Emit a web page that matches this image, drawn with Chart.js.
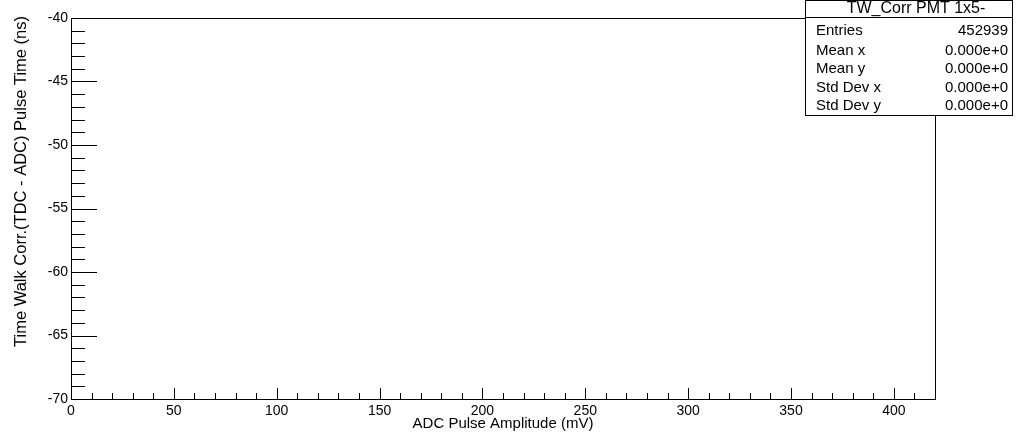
<!DOCTYPE html>
<html>
<head>
<meta charset="utf-8">
<script src="https://cdn.jsdelivr.net/npm/chart.js@4/dist/chart.umd.min.js"></script>
<style>
  html, body { margin: 0; padding: 0; background: #fff; }
  #wrap { width: 1021px; height: 433px; }
</style>
</head>
<body>
<div id="wrap"><canvas id="twChart" width="1021" height="433"></canvas></div>
<script>
// --- datos del histograma (vacío: todas las entradas fuera del rango) ---
const histPoints = [];
const xRange = [0, 420];
const yRange = [-70, -40];
const xTickValues = [0, 50, 100, 150, 200, 250, 300, 350, 400];
const yTickValues = [-70, -65, -60, -55, -50, -45, -40];
const xMinorStep = 10;
const yMinorStep = 1;

const xTitle = 'ADC Pulse Amplitude (mV)';
const yTitle = 'Time Walk Corr.(TDC - ADC) Pulse Time (ns)';

const statsTitle = 'TW_Corr PMT 1x5-';
const statLabels = ['Entries', 'Mean x', 'Mean y', 'Std Dev x', 'Std Dev y'];
const statValues = ['452939', '0.000e+0', '0.000e+0', '0.000e+0', '0.000e+0'];

const FONT = '"Liberation Sans", Arial, sans-serif';

// marco, marcas interiores, títulos y caja de estadísticas
const rootFrame = {
    id: 'rootFrame',
    afterDraw(chart) {
        const ctx = chart.ctx;
        const a = chart.chartArea;
        const xs = chart.scales.x, ys = chart.scales.y;
        ctx.save();
        ctx.strokeStyle = '#000';
        ctx.lineWidth = 1;

        // marco
        ctx.strokeRect(Math.round(a.left) + 0.5, Math.round(a.top) + 0.5,
            Math.round(a.right - a.left), Math.round(a.bottom - a.top));

        ctx.beginPath();
        // marcas eje x
        for (let v = xRange[0]; v <= xRange[1]; v += xMinorStep) {
            const px = Math.round(xs.getPixelForValue(v)) + 0.5;
            const len = (v % 50 === 0) ? 11 : 6;
            ctx.moveTo(px, a.bottom);
            ctx.lineTo(px, a.bottom - len);
        }
        // marcas eje y
        for (let v = yRange[0]; v <= yRange[1]; v += yMinorStep) {
            const py = Math.round(ys.getPixelForValue(v)) + 0.5;
            const len = (v % 5 === 0) ? 26 : 14;
            ctx.moveTo(a.left, py);
            ctx.lineTo(a.left + len, py);
        }
        ctx.stroke();

        // títulos de ejes
        ctx.fillStyle = '#000';
        ctx.textBaseline = 'alphabetic';
        ctx.textAlign = 'center';
        ctx.font = '15px ' + FONT;
        ctx.fillText(xTitle, 503, 428);
        ctx.save();
        ctx.translate(26, 181.5);
        ctx.rotate(-Math.PI / 2);
        ctx.font = '16.5px ' + FONT;
        ctx.fillText(yTitle, 0, 0);
        ctx.restore();

        // caja de estadísticas
        const bx = 805, by = 0, bw = 207, bh = 115;
        ctx.fillStyle = '#fff';
        ctx.fillRect(bx, by, bw, bh);
        ctx.strokeRect(bx + 0.5, by + 0.5, bw, bh);
        ctx.beginPath();
        ctx.moveTo(bx, 17.5);
        ctx.lineTo(bx + bw, 17.5);
        ctx.stroke();
        ctx.fillStyle = '#000';
        ctx.textAlign = 'center';
        ctx.font = '16px ' + FONT;
        ctx.fillText(statsTitle, 916, 13);
        ctx.font = '15px ' + FONT;
        const rowY = [35, 54.5, 73, 92, 110];
        statLabels.forEach((lbl, i) => {
            ctx.textAlign = 'left';
            ctx.fillText(lbl, 816, rowY[i]);
            ctx.textAlign = 'right';
            ctx.fillText(statValues[i], 1008, rowY[i]);
        });
        ctx.restore();
    }
};

function createChart(ctx) {
    new Chart(ctx, {
        type: 'scatter',
        data: {
            datasets: [{
                label: statsTitle,
                data: histPoints,
                pointRadius: 1,
                backgroundColor: '#000'
            }]
        },
        options: {
            responsive: false,
            animation: false,
            layout: { padding: { top: 18, right: 86, left: 0, bottom: 0 } },
            plugins: {
                legend: { display: false },
                tooltip: { enabled: false }
            },
            scales: {
                x: {
                    type: 'linear',
                    min: xRange[0],
                    max: xRange[1],
                    grid: { display: false, drawTicks: false },
                    border: { display: false },
                    afterBuildTicks: s => { s.ticks = xTickValues.map(v => ({ value: v })); },
                    afterFit: s => { s.height = 34; },
                    ticks: {
                        autoSkip: false,
                        maxRotation: 0,
                        padding: 4,
                        color: '#000',
                        font: { family: FONT, size: 14 }
                    }
                },
                y: {
                    type: 'linear',
                    min: yRange[0],
                    max: yRange[1],
                    grid: { display: false, drawTicks: false },
                    border: { display: false },
                    afterBuildTicks: s => { s.ticks = yTickValues.map(v => ({ value: v })); },
                    afterFit: s => { s.width = 71; },
                    ticks: {
                        autoSkip: false,
                        padding: 3,
                        color: '#000',
                        font: { family: FONT, size: 14 }
                    }
                }
            }
        },
        plugins: [rootFrame]
    });
}

createChart(document.getElementById('twChart').getContext('2d'));
</script>
</body>
</html>
